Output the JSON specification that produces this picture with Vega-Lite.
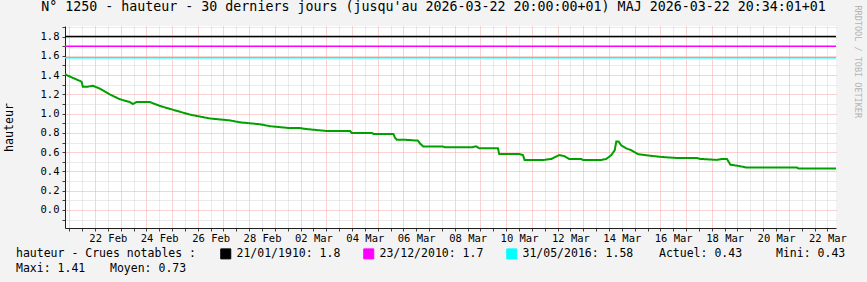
{
  "$schema": "https://vega.github.io/schema/vega-lite/v6.json",
  "width": 771,
  "height": 202,
  "autosize": {"type": "none"},
  "padding": {"left": 65, "top": 26, "right": 31, "bottom": 54},
  "background": "#f3f3f3",
  "title": {
    "text": "N° 1250 - hauteur - 30 derniers jours (jusqu'au 2026-03-22 20:00:00+01) MAJ 2026-03-22 20:34:01+01",
    "frame": "group", "anchor": "middle", "dx": -17, "offset": -19, "baseline": "alphabetic",
    "font": "DejaVu Sans Mono", "fontSize": 13.3, "fontWeight": "normal", "color": "#000000"
  },
  "config": {
    "view": {"stroke": null, "fill": "#ffffff"},
    "axis": {
      "labelFont": "DejaVu Sans Mono", "labelFontSize": 10.5, "labelColor": "#000000",
      "titleFont": "DejaVu Sans Mono", "titleFontSize": 11.6, "titleFontWeight": "normal", "titleColor": "#000000",
      "domainColor": "#202020", "tickColor": "#404040"
    },
    "legend": {
      "titleFont": "DejaVu Sans Mono", "titleFontSize": 11.5, "titleFontWeight": "normal", "titleColor": "#000000",
      "labelFont": "DejaVu Sans Mono", "labelFontSize": 11.5, "labelColor": "#000000",
      "padding": 0, "titleLimit": 0, "labelLimit": 0
    }
  },
  "resolve": {"axis": {"y": "independent"}},
  "layer": [
    {
      "data": {"values": [
        {"t": "2026-02-20T20:00:00Z", "v": 1.41},
        {"t": "2026-02-20T21:30:00Z", "v": 1.40},
        {"t": "2026-02-21T09:50:00Z", "v": 1.34},
        {"t": "2026-02-21T11:30:00Z", "v": 1.33},
        {"t": "2026-02-21T12:40:00Z", "v": 1.28},
        {"t": "2026-02-21T17:20:00Z", "v": 1.28},
        {"t": "2026-02-21T22:00:00Z", "v": 1.29},
        {"t": "2026-02-22T04:30:00Z", "v": 1.26},
        {"t": "2026-02-22T13:50:00Z", "v": 1.20},
        {"t": "2026-02-22T23:10:00Z", "v": 1.15},
        {"t": "2026-02-23T08:40:00Z", "v": 1.12},
        {"t": "2026-02-23T11:20:00Z", "v": 1.10},
        {"t": "2026-02-23T14:50:00Z", "v": 1.12},
        {"t": "2026-02-24T03:20:00Z", "v": 1.12},
        {"t": "2026-02-24T12:40:00Z", "v": 1.08},
        {"t": "2026-02-24T21:50:00Z", "v": 1.05},
        {"t": "2026-02-25T07:20:00Z", "v": 1.02},
        {"t": "2026-02-25T16:40:00Z", "v": 0.99},
        {"t": "2026-02-26T02:00:00Z", "v": 0.97},
        {"t": "2026-02-26T11:20:00Z", "v": 0.95},
        {"t": "2026-02-26T20:40:00Z", "v": 0.94},
        {"t": "2026-02-27T06:00:00Z", "v": 0.93},
        {"t": "2026-02-27T15:20:00Z", "v": 0.91},
        {"t": "2026-02-28T00:40:00Z", "v": 0.90},
        {"t": "2026-02-28T10:10:00Z", "v": 0.89},
        {"t": "2026-02-28T19:20:00Z", "v": 0.87},
        {"t": "2026-03-01T04:50:00Z", "v": 0.86},
        {"t": "2026-03-01T14:10:00Z", "v": 0.85},
        {"t": "2026-03-01T23:30:00Z", "v": 0.85},
        {"t": "2026-03-02T05:40:00Z", "v": 0.84},
        {"t": "2026-03-02T15:00:00Z", "v": 0.83},
        {"t": "2026-03-03T00:20:00Z", "v": 0.82},
        {"t": "2026-03-03T22:10:00Z", "v": 0.82},
        {"t": "2026-03-03T23:50:00Z", "v": 0.80},
        {"t": "2026-03-04T18:30:00Z", "v": 0.80},
        {"t": "2026-03-04T20:00:00Z", "v": 0.79},
        {"t": "2026-03-05T14:40:00Z", "v": 0.79},
        {"t": "2026-03-05T16:10:00Z", "v": 0.75},
        {"t": "2026-03-05T17:50:00Z", "v": 0.73},
        {"t": "2026-03-05T23:40:00Z", "v": 0.73},
        {"t": "2026-03-06T13:40:00Z", "v": 0.72},
        {"t": "2026-03-06T15:30:00Z", "v": 0.69},
        {"t": "2026-03-06T18:30:00Z", "v": 0.66},
        {"t": "2026-03-07T12:50:00Z", "v": 0.66},
        {"t": "2026-03-07T14:50:00Z", "v": 0.65},
        {"t": "2026-03-08T15:20:00Z", "v": 0.65},
        {"t": "2026-03-08T20:00:00Z", "v": 0.66},
        {"t": "2026-03-08T22:50:00Z", "v": 0.64},
        {"t": "2026-03-09T16:20:00Z", "v": 0.64},
        {"t": "2026-03-09T17:30:00Z", "v": 0.58},
        {"t": "2026-03-10T12:30:00Z", "v": 0.58},
        {"t": "2026-03-10T15:40:00Z", "v": 0.57},
        {"t": "2026-03-10T17:10:00Z", "v": 0.52},
        {"t": "2026-03-11T11:30:00Z", "v": 0.52},
        {"t": "2026-03-11T18:10:00Z", "v": 0.53},
        {"t": "2026-03-12T01:30:00Z", "v": 0.57},
        {"t": "2026-03-12T06:10:00Z", "v": 0.56},
        {"t": "2026-03-12T10:50:00Z", "v": 0.53},
        {"t": "2026-03-12T22:10:00Z", "v": 0.53},
        {"t": "2026-03-12T23:40:00Z", "v": 0.52},
        {"t": "2026-03-13T16:50:00Z", "v": 0.52},
        {"t": "2026-03-13T21:30:00Z", "v": 0.53},
        {"t": "2026-03-14T02:10:00Z", "v": 0.57},
        {"t": "2026-03-14T05:20:00Z", "v": 0.62},
        {"t": "2026-03-14T06:50:00Z", "v": 0.71},
        {"t": "2026-03-14T09:00:00Z", "v": 0.71},
        {"t": "2026-03-14T11:30:00Z", "v": 0.67},
        {"t": "2026-03-14T16:10:00Z", "v": 0.64},
        {"t": "2026-03-14T20:50:00Z", "v": 0.62},
        {"t": "2026-03-15T03:10:00Z", "v": 0.58},
        {"t": "2026-03-15T09:20:00Z", "v": 0.57},
        {"t": "2026-03-15T17:10:00Z", "v": 0.56},
        {"t": "2026-03-16T01:30:00Z", "v": 0.55},
        {"t": "2026-03-16T15:30:00Z", "v": 0.54},
        {"t": "2026-03-17T10:10:00Z", "v": 0.54},
        {"t": "2026-03-17T13:20:00Z", "v": 0.53},
        {"t": "2026-03-18T04:50:00Z", "v": 0.52},
        {"t": "2026-03-18T09:30:00Z", "v": 0.53},
        {"t": "2026-03-18T14:10:00Z", "v": 0.53},
        {"t": "2026-03-18T17:20:00Z", "v": 0.47},
        {"t": "2026-03-18T23:40:00Z", "v": 0.46},
        {"t": "2026-03-19T08:50:00Z", "v": 0.44},
        {"t": "2026-03-21T07:40:00Z", "v": 0.44},
        {"t": "2026-03-21T09:10:00Z", "v": 0.43},
        {"t": "2026-03-22T20:00:00Z", "v": 0.43}
      ]},
      "mark": {"type": "line", "strokeWidth": 2, "clip": true},
      "encoding": {
        "x": {
          "field": "t", "type": "temporal",
          "scale": {"type": "utc", "domain": [1771617600000, 1774209600000]},
          "axis": {
            "title": null,
            "values": [1771632000000, 1771675200000, 1771718400000, 1771761600000, 1771804800000, 1771848000000, 1771891200000, 1771934400000, 1771977600000, 1772020800000, 1772064000000, 1772107200000, 1772150400000, 1772193600000, 1772236800000, 1772280000000, 1772323200000, 1772366400000, 1772409600000, 1772452800000, 1772496000000, 1772539200000, 1772582400000, 1772625600000, 1772668800000, 1772712000000, 1772755200000, 1772798400000, 1772841600000, 1772884800000, 1772928000000, 1772971200000, 1773014400000, 1773057600000, 1773100800000, 1773144000000, 1773187200000, 1773230400000, 1773273600000, 1773316800000, 1773360000000, 1773403200000, 1773446400000, 1773489600000, 1773532800000, 1773576000000, 1773619200000, 1773662400000, 1773705600000, 1773748800000, 1773792000000, 1773835200000, 1773878400000, 1773921600000, 1773964800000, 1774008000000, 1774051200000, 1774094400000, 1774137600000, 1774180800000],
            "labelExpr": "utchours(datum.value) == 12 && utcdate(datum.value) % 2 == 0 ? utcFormat(datum.value, '%d %b') : ''",
            "grid": true,
            "gridColor": {"condition": {"test": "utchours(datum.value) == 0", "value": "#f4a4a4"}, "value": "#d4d4d4"},
            "gridDash": [1, 1],
            "tickSize": 3,
            "labelFlush": false, "labelOverlap": false, "labelBound": false,
            "labelPadding": 2
          }
        },
        "y": {
          "field": "v", "type": "quantitative",
          "scale": {"domain": [-0.187, 1.91], "nice": false, "zero": false},
          "axis": {
            "orient": "left",
            "values": [-0.1, 0, 0.1, 0.2, 0.3, 0.4, 0.5, 0.6, 0.7, 0.8, 0.9, 1.0, 1.1, 1.2, 1.3, 1.4, 1.5, 1.6, 1.7, 1.8, 1.9],
            "labelExpr": "abs(round(datum.value * 10)) % 2 == 0 ? format(datum.value, '.1f') : ''",
            "grid": true,
            "gridColor": {"condition": {"test": "abs(round(datum.value * 10)) % 2 == 0", "value": "#f4a4a4"}, "value": "#d4d4d4"},
            "gridDash": [1, 1],
            "tickSize": 3,
            "labelPadding": 3,
            "labelOverlap": false, "labelFlush": false,
            "title": "hauteur",
            "titleX": -56, "titleY": 101, "titleAngle": 270, "titleAlign": "center", "titleBaseline": "middle"
          }
        },
        "stroke": {
          "datum": "Moyen: 0.73",
          "scale": {"range": ["#00a000"]},
          "legend": {
            "orient": "none", "legendX": -49, "legendY": 236.5, "direction": "horizontal",
            "title": "Maxi: 1.41", "titleOrient": "left", "titlePadding": 7,
            "labelOffset": 5, "symbolType": "square", "symbolSize": 100, "symbolOpacity": 0
          }
        },
        "strokeDash": {
          "datum": "Mini: 0.43",
          "scale": {"range": [[1, 0]]},
          "legend": {
            "orient": "none", "legendX": 594, "legendY": 222, "direction": "horizontal",
            "title": "Actuel: 0.43", "titleOrient": "left", "titlePadding": 16,
            "labelOffset": 5, "symbolType": "square", "symbolSize": 100, "symbolOpacity": 0
          }
        }
      }
    },
    {
      "data": {"values": [
        {"crue": "21/01/1910: 1.8", "niveau": 1.8},
        {"crue": "23/12/2010: 1.7", "niveau": 1.7},
        {"crue": "31/05/2016: 1.58", "niveau": 1.58}
      ]},
      "mark": {"type": "rule", "strokeWidth": 1.5},
      "encoding": {
        "y": {
          "field": "niveau", "type": "quantitative",
          "scale": {"domain": [-0.187, 1.91], "nice": false, "zero": false},
          "axis": {
            "orient": "right", "labels": false, "ticks": false, "domain": false, "grid": false,
            "title": "RRDTOOL / TOBI OETIKER",
            "titleX": 21, "titleY": -21, "titleAngle": 90, "titleAlign": "left", "titleBaseline": "middle",
            "titleFontSize": 8.5, "titleColor": "#b4b4b4"
          }
        },
        "color": {
          "field": "crue", "type": "nominal",
          "scale": {"domain": ["21/01/1910: 1.8", "23/12/2010: 1.7", "31/05/2016: 1.58"], "range": ["#000000", "#ff00ff", "#00ffff"]},
          "legend": {
            "orient": "none", "legendX": -49, "legendY": 222, "direction": "horizontal",
            "title": "hauteur - Crues notables :", "titleOrient": "left", "titlePadding": 23,
            "columnPadding": 20, "labelOffset": 5,
            "symbolType": "square", "symbolSize": 100, "symbolStrokeColor": "#000000", "symbolStrokeWidth": 1,
            "encode": {"symbols": {"update": {
              "fill": {"scale": "color", "field": "value"},
              "fillOpacity": {"value": 1},
              "stroke": {"value": "#000000"},
              "strokeWidth": {"value": 1}
            }}}
          }
        }
      }
    }
  ]
}
